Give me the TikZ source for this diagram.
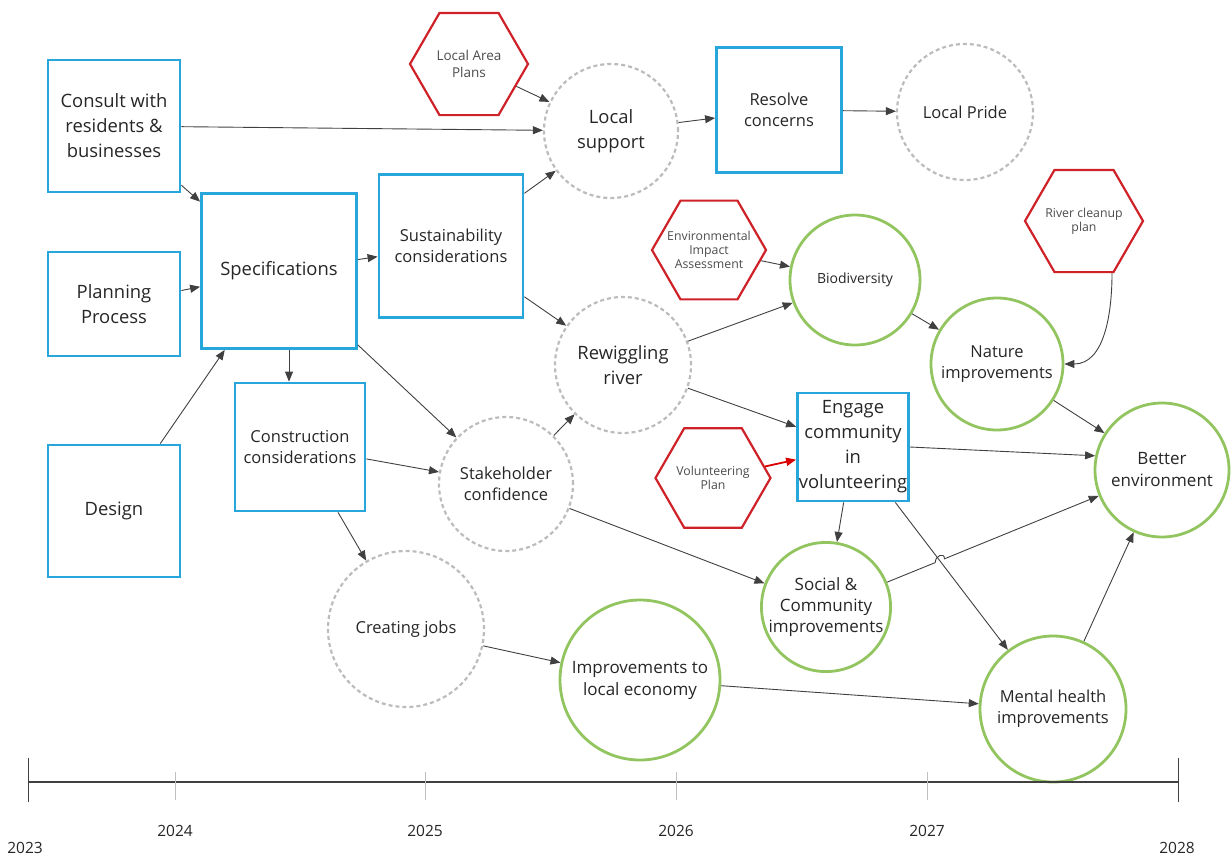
\documentclass[tikz,border=0pt]{standalone}
\usepackage{fontspec}
\setmainfont{Open Sans}
\usetikzlibrary{shapes.geometric, arrows.meta, calc}

\definecolor{boxblue}{RGB}{38,166,219}
\definecolor{ringgreen}{RGB}{146,196,95}
\definecolor{hexred}{RGB}{206,34,40}
\definecolor{ringgrey}{RGB}{188,188,188}
\definecolor{linkgrey}{RGB}{64,64,64}

\newcommand{\bigtext}{\fontsize{18.4}{25}\selectfont}
\newcommand{\midtext}{\fontsize{16.5}{21}\selectfont}
\newcommand{\smalltext}{\fontsize{14}{18}\selectfont}
\newcommand{\hextext}{\fontsize{12.3}{14}\selectfont}

\begin{document}
\begin{tikzpicture}[x=1pt, y=1pt,
                stepbox/.style={draw=boxblue, line width=2.8pt, rectangle, align=center, inner sep=1pt, font=\bigtext, text=black!85},
                outring/.style={draw=ringgrey, line width=2.2pt, dash pattern=on 4pt off 3pt, circle, align=center, inner sep=0pt, font=\midtext, text=black!85},
                impring/.style={draw=ringgreen, line width=2.8pt, circle, align=center, inner sep=0pt, font=\midtext, text=black!85},
                planhex/.style={draw=hexred, line width=2.2pt, regular polygon, regular polygon sides=6, align=center, inner sep=-8pt, font=\hextext, text=black!70},
                link/.style={draw=linkgrey, line width=0.9pt, -{Triangle[length=10pt, width=8pt]}},
                yearlabel/.style={font=\fontsize{15.5}{18}\selectfont, text=black!85}
            ]

            \useasboundingbox (0,0) rectangle (1231,-860);

            % blue boxes
            \node[stepbox, minimum width=132pt, minimum height=132pt] (consult) at (114,-126) {Consult with\\residents \&\\businesses};
            \node[stepbox, minimum width=132pt, minimum height=104pt] (planning) at (114,-304) {Planning\\Process};
            \node[stepbox, minimum width=132pt, minimum height=132pt] (design) at (114,-511) {Design};
            \node[stepbox, minimum width=155pt, minimum height=155pt] (spec) at (279,-271) {Specifications};
            \node[stepbox, minimum width=144pt, minimum height=143pt, font=\midtext] (sust) at (451,-246) {Sustainability\\considerations};
            \node[stepbox, minimum width=130pt, minimum height=128pt, font=\midtext] (cons) at (300,-447) {Construction\\considerations};
            \node[stepbox, minimum width=125pt, minimum height=125pt, font=\midtext] (resolve) at (779,-110) {Resolve\\concerns};
            \node[stepbox, minimum width=111pt, minimum height=108pt, inner sep=0pt] (engage) at (853,-447) {Engage\\community\\in\\volunteering};

            % grey rings
            \node[outring, minimum size=134pt, font=\bigtext] (support) at (611,-131) {Local\\support};
            \node[outring, minimum size=136pt] (pride) at (965,-112) {Local Pride};
            \node[outring, minimum size=136pt, font=\bigtext] (rewiggle) at (623,-365) {Rewiggling\\river};
            \node[outring, minimum size=134pt] (stake) at (506,-484) {Stakeholder\\confidence};
            \node[outring, minimum size=156pt] (jobs) at (406,-629) {Creating jobs};

            % green rings
            \node[impring, minimum size=130pt, font=\smalltext] (bio) at (855,-280) {Biodiversity};
            \node[impring, minimum size=132pt] (nature) at (997,-364) {Nature\\improvements};
            \node[impring, minimum size=134pt, font=\fontsize{17}{22}\selectfont] (env) at (1162,-470) {Better\\environment};
            \node[impring, minimum size=126pt, font=\fontsize{17}{21}\selectfont] (social) at (826,-607) {Social \&\\Community\\improvements};
            \node[impring, minimum size=160pt, font=\fontsize{17}{22}\selectfont] (economy) at (640,-680) {Improvements to\\local economy};
            \node[impring, minimum size=146pt] (mental) at (1053,-709) {Mental health\\improvements};

            % red hexagons
            \node[planhex, minimum size=118pt, font=\fontsize{13.5}{17}\selectfont] (areaplan) at (469,-64) {Local Area\\Plans};
            \node[planhex, minimum size=114pt] (eia) at (709,-250) {Environmental\\Impact\\Assessment};
            \node[planhex, minimum size=118pt] (cleanup) at (1084,-221) {River cleanup\\plan};
            \node[planhex, minimum size=115pt] (volplan) at (713,-478) {Volunteering\\Plan};

            % links
            \draw[link] (consult) -- (support);

            \draw[link] (consult) -- (spec);

            \draw[link] (planning) -- (spec);

            \draw[link] (design) -- (spec);

            \draw[link] (spec) -- (sust);

            \draw[link] ([xshift=10pt]spec.south) -- ([xshift=10pt]spec.south |- cons.north);

            \draw[link] (spec) -- (stake);

            \draw[link] (sust) -- (support);

            \draw[link] (sust) -- (rewiggle);

            \draw[link] (areaplan) -- (support);

            \draw[link] (support) -- (resolve);

            \draw[link] (resolve) -- (pride);

            \draw[link] (cons) -- (stake);

            \draw[link] (cons) -- (jobs);

            \draw[link] (stake) -- (rewiggle);

            \draw[link] (stake) -- (social);

            \draw[link] (rewiggle) -- (bio);

            \draw[link] (rewiggle) -- (engage);

            \draw[link] (eia) -- (bio);

            \draw[link] (bio) -- (nature);

            \draw[link] ([xshift=28pt]cleanup.south) to[out=-90, in=0] (nature.east);

            \draw[link] (nature) -- (env);

            \draw[link] (engage.east) -- (env.168);

            \draw[link, draw=red!85!black, line width=1.8pt] (volplan) -- (engage);

            \draw[link] (engage) -- (social);

            \draw[link] (engage) -- (mental);

            \coordinate (hop) at (intersection of social--env and engage--mental);
            \draw[link] (social) -- ($(hop)!5pt!(social)$) .. controls +(0,7) and +(0,7) .. ($(hop)!5pt!(env)$) -- (env);

            \draw[link] (jobs) -- (economy);

            \draw[link] (economy) -- (mental);

            \draw[link] (mental) -- (env);

            % time line
            \draw[linkgrey, line width=1.3pt] (28,-782) -- (1178,-782);
            \draw[linkgrey, line width=1pt] (28,-758) -- (28,-802);
            \draw[linkgrey, line width=1pt] (1178,-758) -- (1178,-802);
            \foreach \xpos in {175,425,676,927}
                \draw[black!25, line width=0.6pt] (\xpos,-772) -- (\xpos,-800);

            \node[yearlabel] (y2023) at (25,-848) {2023};
            \node[yearlabel] (y2024) at (175,-831) {2024};
            \node[yearlabel] (y2025) at (425,-831) {2025};
            \node[yearlabel] (y2026) at (676,-831) {2026};
            \node[yearlabel] (y2027) at (927,-831) {2027};
            \node[yearlabel] (y2028) at (1177,-848) {2028};

        \end{tikzpicture}
\end{document}
